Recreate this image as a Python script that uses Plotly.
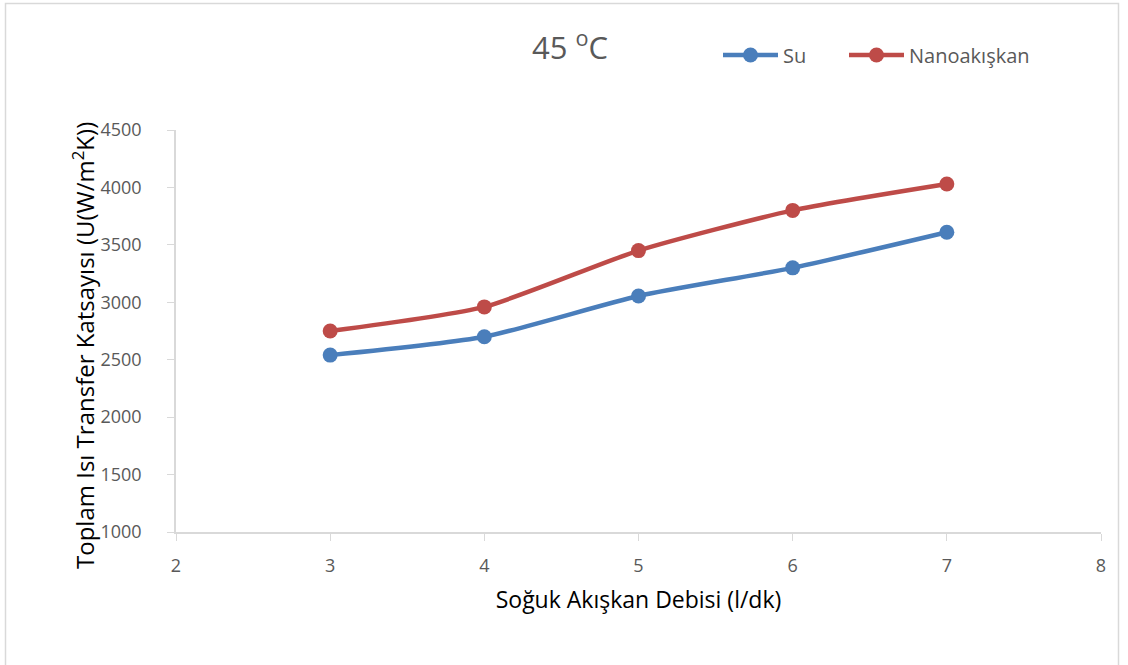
import plotly.graph_objects as go

flow = [3, 4, 5, 6, 7]
su = [2540, 2700, 3055, 3300, 3610]
nano = [2750, 2960, 3450, 3800, 4030]

L, R, T, B = 176, 27, 130, 133
W, H = 1128, 665
pw, ph = W - L - R, H - T - B

def px(x):
    return (x - L) / pw

def py(y):
    return (H - B - y) / ph

fig = go.Figure()
fig.add_trace(go.Scatter(x=flow, y=su, name="Su", mode="lines+markers", legend="legend",
                         showlegend=True,
                         line=dict(color="#4a7ebb", width=4.5, shape="spline", smoothing=0.6),
                         marker=dict(size=15, color="#4a7ebb")))
fig.add_trace(go.Scatter(x=flow, y=nano, name="Nanoakışkan", mode="lines+markers", legend="legend2",
                         showlegend=True,
                         line=dict(color="#be4b48", width=4.5, shape="spline", smoothing=0.6),
                         marker=dict(size=15, color="#be4b48")))

fig.add_shape(type="rect", xref="paper", yref="paper",
              x0=px(5.5), x1=px(1118.5), y0=py(700), y1=py(3.5),
              line=dict(color="#d9d9d9", width=1.5), fillcolor="rgba(0,0,0,0)", layer="below")

fig.add_annotation(text="Toplam Isı Transfer Katsayısı (U(W/m<sup>2</sup>K))",
                   xref="paper", yref="paper", x=px(83), y=py(346),
                   xanchor="center", yanchor="middle", textangle=-90, showarrow=False,
                   font=dict(size=24, color="#000000"))

leg_common = dict(orientation="h", xanchor="left", yanchor="middle",
                  font=dict(size=20, color="#595959"), itemwidth=55, bgcolor="rgba(0,0,0,0)")

fig.update_layout(
    width=W, height=H,
    margin=dict(l=L, r=R, t=T, b=B),
    paper_bgcolor="white", plot_bgcolor="white",
    showlegend=True,
    font=dict(family="Open Sans", color="#595959"),
    title=dict(text="45 <sup>o</sup>C", xref="container", x=570 / W, xanchor="center",
               y=1 - 48 / H, yanchor="middle",
               font=dict(size=31, color="#595959")),
    legend=dict(x=px(718), y=py(55), **leg_common),
    legend2=dict(x=px(844), y=py(55), **leg_common),
    xaxis=dict(range=[2, 8], dtick=1, showgrid=False, zeroline=False, showline=True,
               linecolor="#d9d9d9", linewidth=1.5, ticks="outside", tickcolor="#d9d9d9",
               ticklen=7, tickfont=dict(size=18, color="#595959"), ticklabelstandoff=10,
               title=dict(text="Soğuk Akışkan Debisi (l/dk)", font=dict(size=23, color="#000000"), standoff=16)),
    yaxis=dict(range=[1000, 4500], dtick=500, showgrid=False, zeroline=False, showline=True,
               linecolor="#d9d9d9", linewidth=1.5, ticks="outside", tickcolor="#d9d9d9",
               ticklen=7, tickfont=dict(size=18, color="#595959"), ticklabelstandoff=22),
)

fig.write_html("out.html")
